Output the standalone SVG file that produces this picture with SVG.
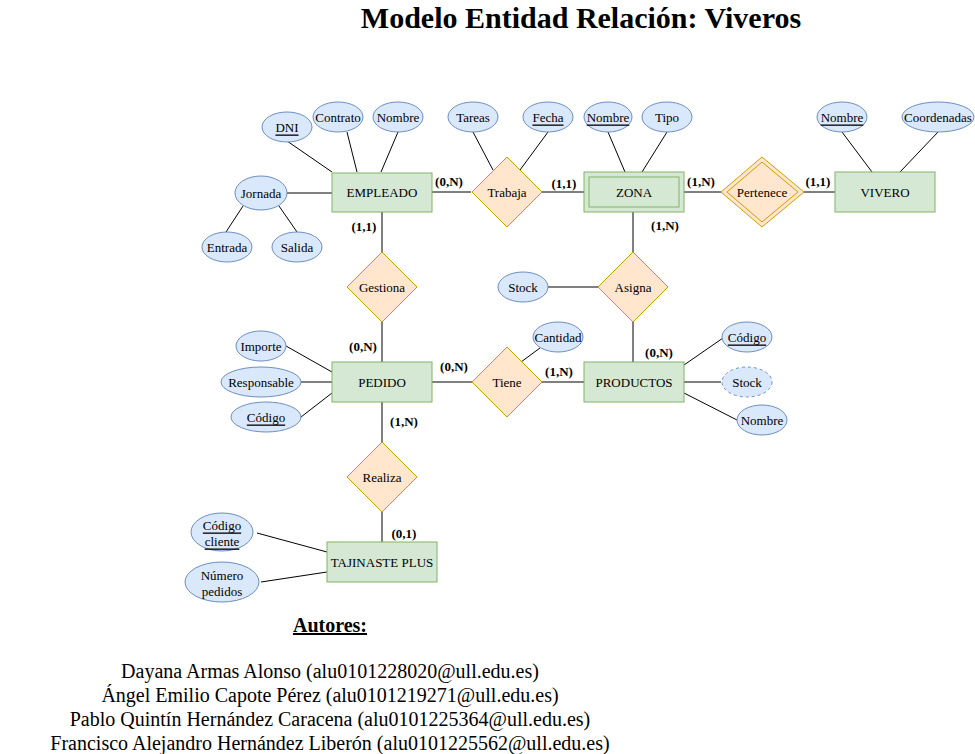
<svg xmlns="http://www.w3.org/2000/svg" width="975" height="754" viewBox="0 0 975 754" font-family="'Liberation Serif', 'Times New Roman', Times, serif">
<style>
.ent{fill:#d5e8d4;stroke:#82b366;stroke-width:1}
.rel{fill:#ffe6cc;stroke:#d79b00;stroke-width:1}
.att{fill:#dae8fc;stroke:#6c8ebf;stroke-width:1}
.der{fill:#dae8fc;stroke:#6c8ebf;stroke-width:1;stroke-dasharray:3 3}
.ln{stroke:#000;stroke-width:1;fill:none}
.t{font-size:13px;text-anchor:middle;dominant-baseline:central}
.c{font-size:13px;font-weight:bold;text-anchor:middle;dominant-baseline:central}
.u{text-decoration:underline}
.a{font-size:20px;text-anchor:middle}
</style>
<rect width="975" height="754" fill="#fff"/>
<text x="581" y="28" font-size="30" font-weight="bold" text-anchor="middle">Modelo Entidad Relación: Viveros</text>

<g id="connectors">
<path class="ln" d="M287,141 L332,172"/>
<path class="ln" d="M347,132 L357,172"/>
<path class="ln" d="M398,132 L381,172"/>
<path class="ln" d="M287,193 L332,193"/>
<path class="ln" d="M243,206 L226,232"/>
<path class="ln" d="M279,206 L297,232"/>
<path class="ln" d="M432,192 L471,192"/>
<path class="ln" d="M542,192 L584,192"/>
<path class="ln" d="M473,132 L493,170"/>
<path class="ln" d="M548,132 L520,170"/>
<path class="ln" d="M608,132 L625,172"/>
<path class="ln" d="M667,132 L642,172"/>
<path class="ln" d="M684,192 L721,192"/>
<path class="ln" d="M804,192 L835,192"/>
<path class="ln" d="M842,132 L872,172"/>
<path class="ln" d="M938,132 L900,172"/>
<path class="ln" d="M382,212 L382,252"/>
<path class="ln" d="M382,322 L382,362"/>
<path class="ln" d="M633,212 L633,252"/>
<path class="ln" d="M548,287 L598,287"/>
<path class="ln" d="M633,322 L633,362"/>
<path class="ln" d="M286,346 L332,372"/>
<path class="ln" d="M301,382 L332,382"/>
<path class="ln" d="M301,417 L332,393"/>
<path class="ln" d="M432,382 L472,382"/>
<path class="ln" d="M541,382 L584,382"/>
<path class="ln" d="M540,348 L521,362"/>
<path class="ln" d="M684,365 L723,338"/>
<path class="ln" d="M684,382 L721,382"/>
<path class="ln" d="M684,393 L737,420"/>
<path class="ln" d="M382,402 L382,442"/>
<path class="ln" d="M382,512 L382,542"/>
<path class="ln" d="M257,533 L327,552"/>
<path class="ln" d="M261,582 L327,572"/>
</g>

<g id="cardinalities">
<text class="c" x="449" y="181">(0,N)</text>
<text class="c" x="564" y="183">(1,1)</text>
<text class="c" x="701" y="181">(1,N)</text>
<text class="c" x="818" y="181">(1,1)</text>
<text class="c" x="364" y="226">(1,1)</text>
<text class="c" x="665" y="225">(1,N)</text>
<text class="c" x="363" y="346">(0,N)</text>
<text class="c" x="454" y="366">(0,N)</text>
<text class="c" x="559" y="371">(1,N)</text>
<text class="c" x="659" y="352">(0,N)</text>
<text class="c" x="404" y="421">(1,N)</text>
<text class="c" x="404" y="533">(0,1)</text>
</g>

<g id="EMPLEADO"><rect class="ent" x="332" y="173" width="100" height="39"/><text class="t" x="382" y="192">EMPLEADO</text></g>
<g id="ZONA"><rect class="ent" x="584" y="172" width="100" height="40"/><rect class="ent" x="589" y="177" width="90" height="30"/><text class="t" x="634" y="192">ZONA</text></g>
<g id="VIVERO"><rect class="ent" x="835" y="172" width="100" height="40"/><text class="t" x="885" y="192">VIVERO</text></g>
<g id="PEDIDO"><rect class="ent" x="332" y="362" width="100" height="40"/><text class="t" x="382" y="382">PEDIDO</text></g>
<g id="PRODUCTOS"><rect class="ent" x="584" y="362" width="100" height="40"/><text class="t" x="634" y="382">PRODUCTOS</text></g>
<g id="TAJINASTE_PLUS"><rect class="ent" x="327" y="542" width="110" height="40"/><text class="t" x="382" y="562">TAJINASTE PLUS</text></g>

<g id="Trabaja"><path class="rel" d="M507,157 L542,192 L507,227 L472,192 Z"/><text class="t" x="507" y="192">Trabaja</text></g>
<g id="Pertenece"><path class="rel" d="M762,157 L804,192 L762,227 L721,192 Z"/><path class="rel" d="M762,162 L798,192 L762,222 L727,192 Z"/><text class="t" x="762" y="192">Pertenece</text></g>
<g id="Gestiona"><path class="rel" d="M382,252 L417,287 L382,322 L347,287 Z"/><text class="t" x="382" y="287">Gestiona</text></g>
<g id="Asigna"><path class="rel" d="M633,252 L668,287 L633,322 L598,287 Z"/><text class="t" x="633" y="287">Asigna</text></g>
<g id="Tiene"><path class="rel" d="M507,347 L542,382 L507,417 L472,382 Z"/><text class="t" x="507" y="382">Tiene</text></g>
<g id="Realiza"><path class="rel" d="M382,442 L417,477 L382,512 L347,477 Z"/><text class="t" x="382" y="477">Realiza</text></g>

<g id="att_DNI"><ellipse class="att" cx="287" cy="127" rx="25" ry="15"/><text class="t u" x="287" y="127">DNI</text></g>
<g id="att_Contrato"><ellipse class="att" cx="338" cy="117" rx="25" ry="15"/><text class="t" x="338" y="117">Contrato</text></g>
<g id="att_Nombre_emp"><ellipse class="att" cx="398" cy="117" rx="25" ry="15"/><text class="t" x="398" y="117">Nombre</text></g>
<g id="att_Jornada"><ellipse class="att" cx="261" cy="193" rx="26" ry="17"/><text class="t" x="261" y="193">Jornada</text></g>
<g id="att_Entrada"><ellipse class="att" cx="227" cy="247" rx="25" ry="15"/><text class="t" x="227" y="247">Entrada</text></g>
<g id="att_Salida"><ellipse class="att" cx="297" cy="247" rx="25" ry="15"/><text class="t" x="297" y="247">Salida</text></g>
<g id="att_Tareas"><ellipse class="att" cx="473" cy="117" rx="25" ry="15"/><text class="t" x="473" y="117">Tareas</text></g>
<g id="att_Fecha"><ellipse class="att" cx="548" cy="117" rx="25" ry="15"/><text class="t u" x="548" y="117">Fecha</text></g>
<g id="att_Nombre_zona"><ellipse class="att" cx="608" cy="117" rx="24" ry="15"/><text class="t u" x="608" y="117">Nombre</text></g>
<g id="att_Tipo"><ellipse class="att" cx="667" cy="117" rx="25" ry="15"/><text class="t" x="667" y="117">Tipo</text></g>
<g id="att_Nombre_vivero"><ellipse class="att" cx="842" cy="117" rx="25" ry="15"/><text class="t u" x="842" y="117">Nombre</text></g>
<g id="att_Coordenadas"><ellipse class="att" cx="938" cy="117" rx="36" ry="15"/><text class="t" x="938" y="117">Coordenadas</text></g>
<g id="att_Stock_asigna"><ellipse class="att" cx="523" cy="287" rx="25" ry="15"/><text class="t" x="523" y="287">Stock</text></g>
<g id="att_Cantidad"><ellipse class="att" cx="558" cy="337" rx="25" ry="15"/><text class="t" x="558" y="337">Cantidad</text></g>
<g id="att_Importe"><ellipse class="att" cx="261" cy="346" rx="25" ry="15"/><text class="t" x="261" y="346">Importe</text></g>
<g id="att_Responsable"><ellipse class="att" cx="261" cy="382" rx="40" ry="15"/><text class="t" x="261" y="382">Responsable</text></g>
<g id="att_Codigo_pedido"><ellipse class="att" cx="266" cy="417" rx="35" ry="15"/><text class="t u" x="266" y="417">Código</text></g>
<g id="att_Codigo_prod"><ellipse class="att" cx="747" cy="337" rx="25" ry="15"/><text class="t u" x="747" y="337">Código</text></g>
<g id="att_Stock_prod"><ellipse class="der" cx="747" cy="382" rx="25" ry="15"/><text class="t" x="747" y="382">Stock</text></g>
<g id="att_Nombre_prod"><ellipse class="att" cx="762" cy="420" rx="25" ry="15"/><text class="t" x="762" y="420">Nombre</text></g>
<g id="att_Codigo_cliente"><ellipse class="att" cx="222" cy="532" rx="31" ry="19"/><text class="t u" x="222" y="525">Código</text><text class="t u" x="222" y="541">cliente</text></g>
<g id="att_Numero_pedidos"><ellipse class="att" cx="222" cy="582" rx="37" ry="20"/><text class="t" x="222" y="575">Número</text><text class="t" x="222" y="591">pedidos</text></g>

<g id="autores">
<text class="a" x="330" y="632" font-weight="bold" text-decoration="underline">Autores:</text>
<text class="a" x="330" y="678">Dayana Armas Alonso (alu0101228020@ull.edu.es)</text>
<text class="a" x="330" y="702">Ángel Emilio Capote Pérez (alu0101219271@ull.edu.es)</text>
<text class="a" x="330" y="726">Pablo Quintín Hernández Caracena (alu0101225364@ull.edu.es)</text>
<text class="a" x="330" y="750">Francisco Alejandro Hernández Liberón (alu0101225562@ull.edu.es)</text>
</g>
</svg>
